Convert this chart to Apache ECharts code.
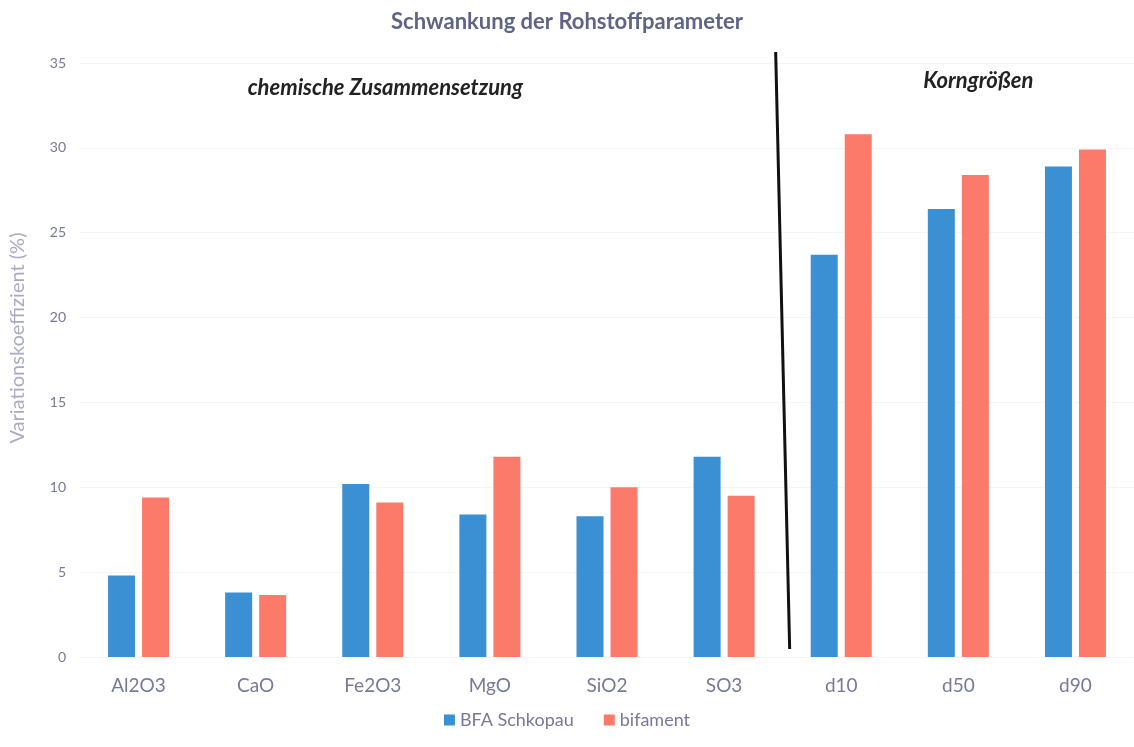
<!DOCTYPE html>
<html>
<head>
<meta charset="utf-8">
<script src="https://cdn.jsdelivr.net/npm/echarts@6/dist/echarts.min.js"></script>
<style>
  html, body { margin: 0; padding: 0; background: #ffffff; }
  #chart { width: 1134px; height: 747px; }
</style>
</head>
<body>
<div id="chart"></div>
<script>
// Variationskoeffizient je Rohstoffparameter
const categories = ['Al2O3', 'CaO', 'Fe2O3', 'MgO', 'SiO2', 'SO3', 'd10', 'd50', 'd90'];
const bfaSchkopau = [4.8, 3.8, 10.2, 8.4, 8.3, 11.8, 23.7, 26.4, 28.9];
const bifament = [9.4, 3.65, 9.1, 11.8, 10.0, 9.5, 30.8, 28.4, 29.9];
const yTicks = { min: 0, max: 35, interval: 5 };

const textColor = '#767a98';
const fontFamily = 'Lato, "Open Sans", sans-serif';

const chart = echarts.init(document.getElementById('chart'));

chart.setOption({
  backgroundColor: '#ffffff',
  animation: false,
  title: {
    text: 'Schwankung der Rohstoffparameter',
    left: 'center',
    top: 6,
    textStyle: { color: '#5f6486', fontSize: 22, fontWeight: 'bold', fontFamily: fontFamily }
  },
  legend: {
    bottom: 13,
    left: 'center',
    itemWidth: 11,
    itemHeight: 11,
    itemGap: 30,
    icon: 'rect',
    textStyle: { color: textColor, fontSize: 18, fontFamily: fontFamily },
    data: ['BFA Schkopau', 'bifament']
  },
  grid: { left: 80, right: 0, top: 63, bottom: 90 },
  xAxis: {
    type: 'category',
    data: categories,
    axisLine: { show: false },
    axisTick: { show: false },
    axisLabel: { color: textColor, fontSize: 19, margin: 19, fontFamily: fontFamily }
  },
  yAxis: {
    type: 'value',
    min: yTicks.min,
    max: yTicks.max,
    interval: yTicks.interval,
    name: 'Variationskoeffizient (%)',
    nameLocation: 'middle',
    nameGap: 52,
    nameTextStyle: { color: '#a9abc2', fontSize: 20, fontFamily: fontFamily, padding: [0, 0, 0, 44] },
    axisLine: { show: false },
    axisTick: { show: false },
    axisLabel: { color: textColor, fontSize: 14, margin: 14, fontFamily: fontFamily },
    splitLine: { lineStyle: { color: '#f5f5f7', width: 1 } }
  },
  series: [
    {
      name: 'BFA Schkopau',
      type: 'bar',
      data: bfaSchkopau,
      barWidth: 27,
      barGap: '26%',
      itemStyle: { color: '#3b8fd3' }
    },
    {
      name: 'bifament',
      type: 'bar',
      data: bifament,
      barWidth: 27,
      itemStyle: { color: '#fc7a69' }
    }
  ]
});

// Trennlinie zwischen chemischer Zusammensetzung und Korngrößen, plus Abschnittsüberschriften
function drawSections() {
  const left = chart.convertToPixel({ xAxisIndex: 0 }, 'SO3');
  const right = chart.convertToPixel({ xAxisIndex: 0 }, 'd10');
  const sepX = (left + right) / 2;
  const yBottom = chart.convertToPixel({ yAxisIndex: 0 }, 0) - 8;
  const yTop = chart.convertToPixel({ yAxisIndex: 0 }, 35) - 11;
  const firstX = chart.convertToPixel({ xAxisIndex: 0 }, 'Al2O3');
  const d50X = chart.convertToPixel({ xAxisIndex: 0 }, 'd50');
  chart.setOption({
    graphic: [
      {
        type: 'line',
        shape: { x1: sepX - 7, y1: yTop, x2: sepX + 7, y2: yBottom },
        style: { stroke: '#111111', lineWidth: 3 }
      },
      {
        type: 'text',
        x: (firstX + left) / 2 - 46,
        y: yTop + 36,
        style: {
          text: 'chemische Zusammensetzung',
          fill: '#222222',
          font: 'italic bold 22px ' + fontFamily,
          align: 'center',
          verticalAlign: 'middle'
        }
      },
      {
        type: 'text',
        x: d50X + 20,
        y: yTop + 29,
        style: {
          text: 'Korngrößen',
          fill: '#222222',
          font: 'italic bold 22px ' + fontFamily,
          align: 'center',
          verticalAlign: 'middle'
        }
      }
    ]
  });
}
drawSections();
</script>
</body>
</html>
